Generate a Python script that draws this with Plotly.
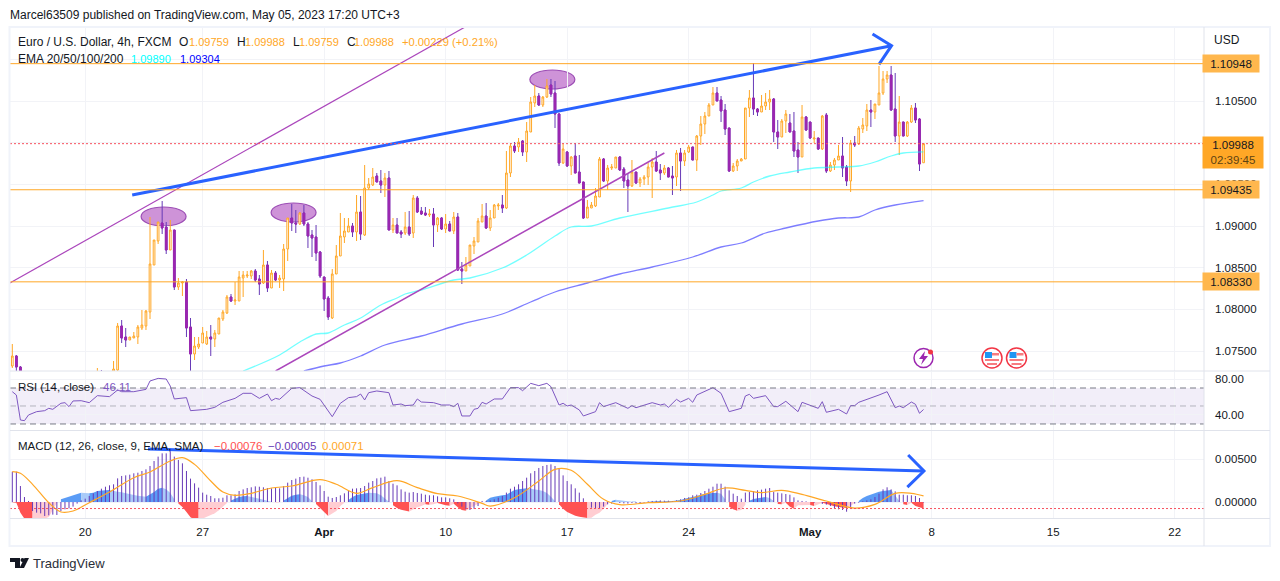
import numpy as np
import plotly.graph_objects as go

# EURUSD 4h bars, in 1e-5 price units
bar_open = [
    107320,107440,107308,107152,107050,106900,106680,106550,106720,106600,
    106480,106400,106550,106680,106620,106750,106700,106810,106760,106880,
    106950,106900,107020,106980,107080,107248,107272,107800,107668,107632,
    107656,107668,107776,107800,107968,108532,108820,109036,108988,108712,
    108952,108268,108316,108328,107788,107464,107548,107596,107584,107668,
    107644,107704,107884,107956,108148,108100,108100,108376,108400,108400,
    108460,108364,108316,108532,108256,108436,108352,108364,108724,109096,
    109036,109024,109156,109024,108892,108868,108688,108388,108136,107896,
    108424,108640,108868,108928,109000,108928,109168,108892,109456,109492,
    109600,109540,109492,109576,108952,109012,108928,108916,108988,108916,
    109336,109180,109156,109132,109144,109012,109096,108964,109024,108940,
    109108,108484,108460,108520,108760,108808,109048,109120,108976,109096,
    109240,109252,109216,109636,109960,109948,110020,109888,110128,110476,
    110560,110452,110548,110692,110596,110344,109756,109888,109720,109840,
    109648,109528,109096,109216,109240,109348,109804,109540,109696,109696,
    109828,109684,109552,109480,109648,109516,109564,109588,109708,109768,
    109672,109636,109696,109600,109588,109876,109780,109888,109948,109792,
    110080,110224,110320,110452,110596,110512,110392,110176,109660,109720,
    109780,109804,110416,110536,110404,110368,110440,110488,110524,110128,
    110068,110260,110236,110140,109912,109828,110308,110248,110044,110056,
    109924,110332,109660,109732,109792,109840,109708,109540,109996,109984,
    110164,110200,110392,110368,110452,110596,110764,110812,110404,110080,
    110248,110080,110248,110416,110284,109759,
]
bar_high = [
    107584,107452,107320,107170,107110,106940,106720,106780,106760,106640,
    106530,106600,106720,106740,106800,106830,106860,106900,106940,107010,
    107040,107296,107272,107150,107180,107380,107836,107872,107776,107668,
    107728,107812,107992,107992,109108,108832,109048,109300,109048,109072,
    108952,108376,108340,108364,107896,107668,107668,107788,107740,107812,
    107752,107896,107992,108172,108184,108328,108460,108460,108460,108472,
    108484,108412,108712,108580,108472,108460,108412,108784,109096,109264,
    109192,109168,109252,109048,108952,109012,108700,108388,108160,108484,
    108772,109156,109096,109096,109036,109372,109360,109732,109576,109696,
    109636,109672,109636,109660,109096,109096,108952,109168,109180,109372,
    109360,109228,109228,109204,109216,109108,109108,109144,109060,109168,
    109156,108568,108628,108772,108868,109096,109264,109276,109192,109264,
    109276,109372,109900,109996,110008,110056,110032,110248,110548,110692,
    110596,110560,110764,110764,110740,110356,109996,109900,109840,109996,
    109852,109528,109312,109288,109456,109828,109816,109732,109744,109828,
    109840,109708,109636,109792,109648,109588,109612,109756,109816,109900,
    109744,109732,109708,109720,109912,109936,109912,109972,109948,110092,
    110320,110368,110476,110668,110668,110560,110464,110176,109756,109804,
    109816,110416,110632,110956,110416,110572,110596,110632,110536,110272,
    110284,110392,110344,110368,110008,110452,110320,110248,110140,110056,
    110332,110356,109768,109816,109972,110068,109732,110032,110080,110200,
    110296,110464,110512,110464,110920,110860,110860,110920,110836,110560,
    110248,110260,110452,110476,110296,109988,
]
bar_low = [
    107296,107260,107104,107000,106840,106610,106480,106510,106540,106410,
    106320,106360,106510,106570,106580,106650,106660,106720,106730,106840,
    106860,106870,106930,106950,107040,107212,107236,107596,107548,107632,
    107656,107584,107752,107752,107884,108532,108784,108904,108664,108712,
    108232,108232,108160,107668,107212,107392,107524,107596,107572,107440,
    107548,107704,107860,107944,108088,108052,108100,108148,108376,108364,
    108328,108172,108304,108208,108256,108340,108256,108220,108580,108940,
    108916,109012,109000,108736,108628,108580,108376,107980,107872,107884,
    108424,108640,108796,108928,108868,108820,108832,108880,109432,109480,
    109528,109396,109348,108952,108916,108916,108856,108892,108880,108856,
    109156,109132,109120,109108,108748,108928,108952,108916,108940,108904,
    108460,108304,108460,108520,108664,108808,109048,108964,108940,109096,
    109192,109156,109204,109588,109876,109888,109840,109768,110128,110428,
    110440,110428,110536,110548,110176,109720,109744,109708,109612,109636,
    109516,109084,109096,109216,109228,109348,109528,109432,109672,109696,
    109660,109456,109168,109468,109504,109468,109492,109492,109336,109648,
    109552,109612,109588,109372,109480,109420,109720,109876,109792,109660,
    109972,110104,110320,110452,110500,110248,110092,109648,109648,109660,
    109780,109804,110308,110332,110320,110368,110392,110392,110008,109924,
    110068,110116,110128,109828,109636,109828,110140,110044,109996,109912,
    109912,109636,109648,109672,109792,109588,109480,109408,109948,109972,
    110116,110140,110188,110284,110452,110572,110716,110380,110008,109852,
    110080,110068,110236,110236,109660,109759,
]
bar_close = [
    107440,107308,107152,107050,106900,106680,106550,106720,106600,106480,
    106400,106550,106680,106620,106750,106700,106810,106760,106880,106950,
    106900,107020,106980,107080,107120,107284,107800,107656,107632,107668,
    107680,107788,107812,107980,108544,108832,109048,108976,108712,108952,
    108268,108316,108328,107776,107464,107560,107584,107716,107668,107644,
    107716,107896,107968,108148,108100,108112,108388,108412,108412,108460,
    108352,108304,108532,108256,108436,108352,108376,108724,109096,109036,
    109024,109156,109024,108880,108856,108676,108400,108124,107908,108424,
    108640,108880,108940,109000,108928,109168,108904,109456,109504,109588,
    109528,109492,109576,108952,109012,108916,108904,108988,108904,109336,
    109168,109144,109132,109144,109012,109096,108964,109024,108940,109108,
    108472,108460,108532,108772,108820,109060,109120,108976,109096,109252,
    109252,109216,109636,109960,109900,110008,109888,110140,110488,110560,
    110452,110548,110680,110584,110344,109756,109924,109720,109828,109636,
    109516,109096,109228,109252,109360,109804,109540,109696,109708,109828,
    109672,109540,109480,109648,109516,109564,109588,109708,109768,109660,
    109636,109696,109588,109576,109876,109780,109876,109948,109792,110080,
    110224,110320,110452,110596,110500,110380,110164,109660,109720,109780,
    109804,110416,110536,110404,110368,110440,110488,110524,110128,110068,
    110260,110344,110128,109900,109828,110308,110152,110056,110056,109924,
    110320,109660,109732,109792,109840,109696,109540,109996,109972,110176,
    110212,110392,110368,110464,110596,110764,110812,110392,110080,110248,
    110080,110248,110416,110272,109744,109988,
]

# EMA curves, read at these bars
ema_a_bars = [57,66,71,75,78,82,86,91,95,97,101,109,113,121,127,134,138,143,150,162,169,173,175,180,183,187,192,198,204,209,213,217,220,225]
ema_a_vals = [107260,107452,107608,107704,107716,107812,107896,108052,108136,108184,108232,108352,108376,108496,108652,108880,108988,109000,109096,109216,109288,109372,109420,109456,109528,109600,109648,109696,109708,109720,109768,109840,109876,109890]
ema_b_bars = [72,77,81,86,92,101,111,121,128,134,142,150,158,168,175,180,186,191,199,204,209,213,218,225]
ema_b_vals = [107260,107320,107356,107440,107572,107680,107824,107944,108088,108208,108316,108424,108508,108628,108748,108796,108916,108976,109060,109096,109108,109192,109252,109304]

# levels and drawings on the price pane
level_prices = [1.10948, 1.09435, 1.08330]
last_price = 1.09988
channel_a_bars, channel_a_vals = [-0.6, 111.8], [108316, 111388]
channel_b_bars, channel_b_vals = [65, 161], [107260, 109876]
arrow_bars = [29.6, 217.1, None, 212.4, 217.1, 214.0]
arrow_vals = [109372, 111164, None, 111304, 111164, 110940]
# bar0, bar1, low, high of the marked tops
ellipses = [(31.8, 42.9, 109000, 109228), (63.9, 75.0, 109048, 109276), (127.8, 138.9, 110644, 110872)]

# RSI(14), read at these bars
rsi_bars = [0,1,2,3,4,6,8,9,10,12,13,14,15,17,19,21,24,26,27,30,33,34,36,38,39,40,43,44,48,50,52,54,55,57,59,61,63,64,65,66,69,71,74,76,79,81,83,85,86,87,88,90,93,94,96,97,99,100,101,104,106,108,109,110,111,113,114,115,116,
            117,119,121,123,125,126,128,130,132,133,135,136,137,138,140,141,144,145,146,149,152,153,154,158,160,161,162,164,165,167,168,169,173,175,177,180,181,182,183,186,188,189,191,194,195,199,200,201,204,206,207,208,209,212,214,216,218,219,220,222,223,224,225]
rsi_vals = [65.9,62.2,34.4,33.7,40,43.7,44.8,47.4,46.3,53,53.7,49.3,55.6,55.9,53.7,61.5,60.4,67.8,65.9,65.9,68.5,77.8,80.7,80,72.2,57.8,59.3,44.8,46.3,48.5,54.1,56.7,58.5,64.1,64.1,58.5,63.3,55.9,58.5,57.4,69.6,70.4,61.1,57.4,38.1,53,59.3,60.4,63.3,56.7,64.8,66.7,64.8,51.1,52.2,50.4,51.1,57.8,54.4,53.7,51.1,51.1,49.3,53,38.9,38.9,46.3,47.4,54.1,
            52.2,57.8,57.8,70.4,70.4,67,75.2,72.6,75.2,71.5,51.1,53,50,51.1,45.6,38.9,43.7,53.7,49.3,53.7,47.4,50.4,48.1,53.7,51.1,52.2,48.5,57.4,54.4,58.5,54.1,62.2,70.4,64.1,43.7,47.4,61.1,63,58.5,61.5,49.3,49.3,55.2,43.7,54.1,47.4,54.8,43,46.3,41.1,50.4,50.4,54.1,58.5,62.2,65.9,48.1,50,48.1,54.4,51.9,41.9,46.11]

# MACD(12,26,9) per bar, in 1e-5 units
macd_vals = [
    353,353,186,58,12,-105,-124,-132,-163,-155,
    -147,-151,-105,-85,-74,-54,-19,19,39,70,
    101,128,155,178,194,206,275,303,310,318,
    334,341,361,380,419,477,528,566,566,590,
    528,489,450,361,272,217,167,109,85,70,
    43,43,50,78,78,89,128,147,163,171,
    182,178,171,163,159,163,159,186,225,256,
    272,291,295,283,264,233,194,128,62,47,
    58,78,101,128,155,159,163,186,225,244,
    275,283,295,244,213,194,147,120,109,116,
    105,97,85,78,78,66,54,54,43,31,
    -16,-54,-85,-93,-78,-47,12,12,19,31,
    50,70,109,155,178,206,244,283,334,361,
    396,419,431,438,419,392,310,244,206,159,
    109,43,0,-66,-78,-70,-54,-27,-19,0,
    -12,-16,-19,-12,-16,-12,-8,8,12,16,
    19,16,16,12,19,31,47,54,78,85,
    105,128,155,178,213,213,178,136,97,70,
    39,109,116,128,136,144,155,163,116,109,
    101,93,85,54,19,12,8,0,-8,0,
    -23,-31,-47,-70,-85,-93,-113,-78,-19,-8,
    8,19,31,58,97,147,171,147,124,85,
    85,78,78,70,47,-5,
]
hist_vals = [
    -4,-8,-124,-194,-233,-252,-233,-202,-194,-175,
    -97,-12,31,47,62,78,93,109,105,101,
    109,128,136,136,140,128,120,113,101,85,
    81,74,66,62,85,116,155,167,147,105,
    31,-16,-58,-116,-178,-202,-213,-194,-171,-155,
    -132,-97,-58,-12,19,43,58,66,70,62,
    50,39,27,12,4,-12,-4,19,50,74,
    85,89,78,58,8,-23,-70,-116,-163,-136,
    -105,-47,-8,23,58,81,93,101,109,105,
    101,78,39,4,-39,-70,-89,-101,-109,-85,
    -62,-47,-27,-31,-27,-12,-27,-39,-43,-19,
    -62,-93,-101,-78,-47,-19,-4,19,50,62,
    74,78,85,116,140,147,155,159,155,147,
    140,128,105,62,8,-27,-78,-116,-140,-159,
    -171,-178,-185,-182,-147,-124,-78,-23,12,27,
    23,16,8,4,4,-4,-4,4,8,12,
    12,8,8,12,19,23,39,47,58,70,
    85,97,101,105,109,97,31,-54,-85,-101,
    -93,-31,16,35,43,54,58,47,12,-23,
    -27,-8,-54,-78,-39,-39,-35,-35,-47,-31,
    -8,-23,-39,-50,-58,-66,-70,-47,-8,12,
    47,70,89,105,120,128,136,140,78,12,
    -27,-35,-8,-47,-62,-76,
]
signal_bars = [0,2,5,9,12,15,19,24,30,34,39,42,45,49,52,55,59,64,69,76,80,85,89,95,100,105,110,116,118,124,130,134,138,142,146,150,157,165,171,176,181,185,190,195,201,208,213,218,222,225]
signal_vals = [353,334,206,-8,-116,-105,-8,116,283,349,477,516,438,244,116,78,101,163,186,260,206,101,167,248,167,97,70,-16,-47,50,244,380,369,206,31,-31,-8,12,89,163,136,109,136,89,12,-70,-27,101,101,71]
macd_last_hist = -0.00076
macd_arrow_bars = [33.5, 225.1, None, 221.2, 225.1, 221.0]
macd_arrow_vals = [0.00616, 0.0036, None, 0.00547, 0.0036, 0.00174]

# time axis
tick_bars = [18, 47, 77, 107, 137, 167, 197, 227, 257, 287]
tick_labels = ["20", "27", "<b>Apr</b>", "10", "17", "24", "<b>May</b>", "8", "15", "22"]

W, H = 1280, 581
UP = "#FFA726"
DOWN = "#9C27B0"
WICK = "#673AB7"
GRID = "#F2F3F7"
EDGE = "#E0E3EB"
TEXT = "#131722"
FONT = "Liberation Sans"


def px(x):
    return x / W


def py(y):
    return 1 - y / H


def pts(vals):
    return [None if v is None else v / 1e5 for v in vals]


opens = np.array(bar_open) / 1e5
highs = np.array(bar_high) / 1e5
lows = np.array(bar_low) / 1e5
closes = np.array(bar_close) / 1e5
bars = np.arange(len(opens))
falling = closes < opens

fig = go.Figure()

# Candles: a first pass gives the wicks, a second repaints falling bodies
fig.add_trace(go.Candlestick(
    x=bars, open=opens, high=highs, low=lows, close=closes,
    increasing=dict(line=dict(color=UP, width=1), fillcolor="#ffffff"),
    decreasing=dict(line=dict(color=WICK, width=1), fillcolor=DOWN),
    whiskerwidth=0, hoverinfo="skip", showlegend=False,
))
fig.add_trace(go.Candlestick(
    x=bars[falling], open=opens[falling], close=closes[falling],
    high=opens[falling], low=closes[falling],
    decreasing=dict(line=dict(color=DOWN, width=1), fillcolor=DOWN),
    whiskerwidth=0, hoverinfo="skip", showlegend=False,
))


def add_line(x, y, color, width, axis="", shape="linear"):
    fig.add_trace(go.Scatter(
        x=x, y=y, mode="lines", line=dict(color=color, width=width, shape=shape),
        xaxis="x" + axis, yaxis="y" + axis, hoverinfo="skip", showlegend=False,
        connectgaps=False,
    ))


add_line(ema_a_bars, pts(ema_a_vals), "rgba(0,255,255,0.55)", 1.3, "", "spline")
add_line(ema_b_bars, pts(ema_b_vals), "rgba(40,40,255,0.6)", 1.3, "", "spline")
add_line(channel_a_bars, pts(channel_a_vals), "#AB47BC", 1.2)
add_line(channel_b_bars, pts(channel_b_vals), "#AB47BC", 1.5)
add_line(arrow_bars, pts(arrow_vals), "#2962FF", 3)

# RSI pane
add_line(rsi_bars, rsi_vals, "#7E57C2", 1, "2")

# MACD histogram is an area, split in runs of one colour
hist = np.array(hist_vals) / 1e5
start = 0
runs = []
for i in range(1, len(hist) + 1):
    if i == len(hist) or (hist[i] >= 0) != (hist[i - 1] >= 0) or (i > 1 and (hist[i] >= hist[i - 1]) != (hist[i - 1] >= hist[i - 2])):
        runs.append((start, i))
        start = i
for a, b in runs:
    mid = min(a + 1, b - 1)
    rising = hist[mid] >= hist[mid - 1] if mid > 0 else False
    if hist[a] >= 0:
        color = "#5B9CF6" if rising else "#A9CBF9"
    else:
        color = "#FFCDD2" if rising else "#FF5252"
    lo = max(a - 1, 0) if (hist[a] >= 0) == (hist[max(a - 1, 0)] >= 0) else a
    fig.add_trace(go.Scatter(
        x=bars[lo:b], y=hist[lo:b], mode="lines", line=dict(width=0), fill="tozeroy",
        fillcolor=color, xaxis="x3", yaxis="y3", hoverinfo="skip", showlegend=False,
    ))

# MACD values as thin stems from zero
stem_x, stem_y = [], []
for bar, value in zip(bars, macd_vals):
    stem_x += [bar, bar, None]
    stem_y += [0, value / 1e5, None]
add_line(stem_x, stem_y, WICK, 1, "3")
add_line(signal_bars, pts(signal_vals), UP, 1.2, "3", "spline")
add_line(macd_arrow_bars, macd_arrow_vals, "#2962FF", 3, "3")

shapes = []


def hline(y, axis, color, dash="solid", width=1):
    shapes.append(dict(
        type="line", xref="x%s domain" % axis, yref="y" + axis, x0=0, x1=1, y0=y, y1=y,
        line=dict(color=color, width=width, dash=dash),
    ))


for level in level_prices:
    hline(level, "", UP)
hline(last_price, "", "#F7525F", "2px,2px")
hline(macd_last_hist, "3", "#F7525F", "2px,2px")
shapes.append(dict(
    type="rect", xref="x2 domain", yref="y2", x0=0, x1=1, y0=30, y1=70,
    fillcolor="rgba(126,87,194,0.1)", line=dict(width=0), layer="below",
))
hline(70, "2", "#787B86", "6px,4px")
hline(30, "2", "#787B86", "6px,4px")
hline(50, "2", "rgba(120,123,134,0.5)", "6px,4px")

for b0, b1, low, high in ellipses:
    shapes.append(dict(
        type="circle", xref="x", yref="y", x0=b0, x1=b1, y0=low / 1e5, y1=high / 1e5,
        fillcolor="#CE93D8", line=dict(color="#9C4DB5", width=1.2), layer="below",
    ))


def rect(x0, y0, x1, y1, fill=None, line=None, width=1):
    shapes.append(dict(
        type="rect", xref="paper", yref="paper", x0=px(x0), x1=px(x1), y0=py(y0), y1=py(y1),
        fillcolor=fill or "rgba(0,0,0,0)",
        line=dict(color=line or "rgba(0,0,0,0)", width=width if line else 0),
    ))


def circle(cx, cy, r, fill=None, line=None, width=1):
    shapes.append(dict(
        type="circle", xref="paper", yref="paper",
        x0=px(cx - r), x1=px(cx + r), y0=py(cy - r), y1=py(cy + r),
        fillcolor=fill or "rgba(0,0,0,0)",
        line=dict(color=line or "rgba(0,0,0,0)", width=width if line else 0),
    ))


def polygon(points, fill):
    path = "M " + " L ".join("%.5f %.5f" % (px(x), py(y)) for x, y in points) + " Z"
    shapes.append(dict(type="path", xref="paper", yref="paper", path=path, fillcolor=fill, line=dict(width=0)))


# chart frame and pane separators
rect(9.5, 27, 1270, 546, line="#F0F3FA", width=2)
for y in [371, 430.5, 518.5]:
    shapes.append(dict(type="line", xref="paper", yref="paper", x0=px(10), x1=px(1270), y0=py(y), y1=py(y),
                       line=dict(color=EDGE, width=1)))
shapes.append(dict(type="line", xref="paper", yref="paper", x0=px(1204), x1=px(1204), y0=py(27), y1=py(546),
                   line=dict(color=EDGE, width=1)))

# event icons under the price pane
circle(923.5, 358, 9.5, "#ffffff", "#9C27B0", 1.5)
polygon([(925, 351), (919, 359), (923, 359), (921, 365), (928, 356), (924, 356)], "#9C27B0")
circle(930.5, 352, 2.5, "#F23645")
for cx in [992, 1016.5]:
    circle(cx, 358, 10, "#ffffff", "#F23645", 1.5)
    rect(cx - 7, 352, cx, 358, "#2196F3")
    rect(cx, 353, cx + 7, 355.5, "#F77C80")
    rect(cx - 7, 359, cx + 7, 361, "#F77C80")
    rect(cx - 5, 363, cx + 5, 365, "#F77C80")

# TradingView mark in the footer
polygon([(10, 558), (20, 558), (20, 568), (15, 568), (15, 562), (10, 562)], TEXT)
circle(22.5, 560, 2, TEXT)
polygon([(24, 568), (19.5, 568), (24.5, 558), (29, 558)], TEXT)

annotations = []


def label(x, y, text, size=12, color=TEXT, **kw):
    annotations.append(dict(
        xref="paper", yref="paper", x=px(x - 1), y=py(y), text=text, showarrow=False,
        xanchor="left", yanchor="middle", borderpad=0,
        font=dict(family=FONT, size=size, color=color), **kw,
    ))


label(10, 15, "Marcel63509 published on TradingView.com, May 05, 2023 17:20 UTC+3", 12)
label(18, 42, "Euro / U.S. Dollar, 4h, FXCM", 12)
for x, letter in [(179, "O"), (237, "H"), (293, "L"), (347, "C")]:
    label(x, 42, letter, 12)
for x, value in [(189, "1.09759"), (245, "1.09988"), (299, "1.09759"), (354, "1.09988")]:
    label(x, 42, value, 11, UP)
label(402, 42, "+0.00229 (+0.21%)", 11.2, UP)
label(18, 59, "EMA 20/50/100/200", 12)
label(131, 59, "1.09890", 11, "#00FFFF")
label(180, 59, "1.09304", 11, "#0000FF")
label(18, 387, "RSI (14, close)", 11.5)
label(103, 387, "46.11", 11.5, "#7E57C2")
label(18, 446, "MACD (12, 26, close, 9, EMA, SMA)", 11.5)
label(214, 446, "−0.00076", 11.5, "#FF5252")
label(268, 446, "−0.00005", 11.5, WICK)
label(322, 446, "0.00071", 11.5, UP)
label(1214, 40, "USD", 12)
label(33, 563, "TradingView", 13, "#2A2E39")

for level in level_prices:
    annotations.append(dict(
        xref="paper", yref="y", x=px(1204.5), xshift=-3, y=level, xanchor="left", yanchor="middle",
        text="%.5f" % level, showarrow=False, width=56, height=17, bgcolor="#FFB74D",
        borderpad=0, align="center", font=dict(family=FONT, size=11.5, color=TEXT),
    ))
annotations.append(dict(
    xref="paper", yref="y", x=px(1204.5), xshift=-3, y=last_price, xanchor="left", yanchor="top", yshift=8,
    text='%.5f<br><span style="color:#5D4312">02:39:45</span>' % last_price, showarrow=False, width=60, height=31,
    bgcolor="#FFA726", borderpad=0, align="center", font=dict(family=FONT, size=11.5, color=TEXT),
))

axis_font = dict(family=FONT, size=11.5, color=TEXT)
x_common = dict(
    domain=[px(10), px(1204)], range=[-0.57, 294.25], tickmode="array", tickvals=tick_bars,
    ticktext=tick_labels, showgrid=True, gridcolor=GRID, gridwidth=1, zeroline=False,
    showline=False, ticks="", tickfont=axis_font, rangeslider=dict(visible=False),
)
y_common = dict(
    side="right", showgrid=True, gridcolor=GRID, gridwidth=1, zeroline=False, showline=False,
    ticks="", tickfont=axis_font, ticklabelstandoff=10, fixedrange=True,
)

fig.update_layout(
    width=W, height=H, autosize=False, margin=dict(l=0, r=0, t=0, b=0),
    paper_bgcolor="#ffffff", plot_bgcolor="#ffffff", boxgap=0.4,
    showlegend=False, shapes=shapes, annotations=annotations,
    xaxis=dict(x_common, anchor="y", showticklabels=False),
    xaxis2=dict(x_common, anchor="y2", matches="x", showticklabels=False),
    xaxis3=dict(x_common, anchor="y3", matches="x", ticklabelstandoff=5),
    yaxis=dict(y_common, anchor="x", domain=[py(371), py(27)], range=[1.0726, 1.11388],
               tick0=1.075, dtick=0.005, tickformat=".5f"),
    yaxis2=dict(y_common, anchor="x2", domain=[py(430), py(372)], range=[23.3, 87.8],
                tickmode="array", tickvals=[40, 80], tickformat=".2f"),
    yaxis3=dict(y_common, anchor="x3", domain=[py(518), py(431)], range=[-0.00186, 0.00826],
                tickmode="array", tickvals=[0, 0.005], tickformat=".5f"),
)

fig.write_html("out.html", config=dict(displayModeBar=False), post_script="document.body.style.margin='0';")
